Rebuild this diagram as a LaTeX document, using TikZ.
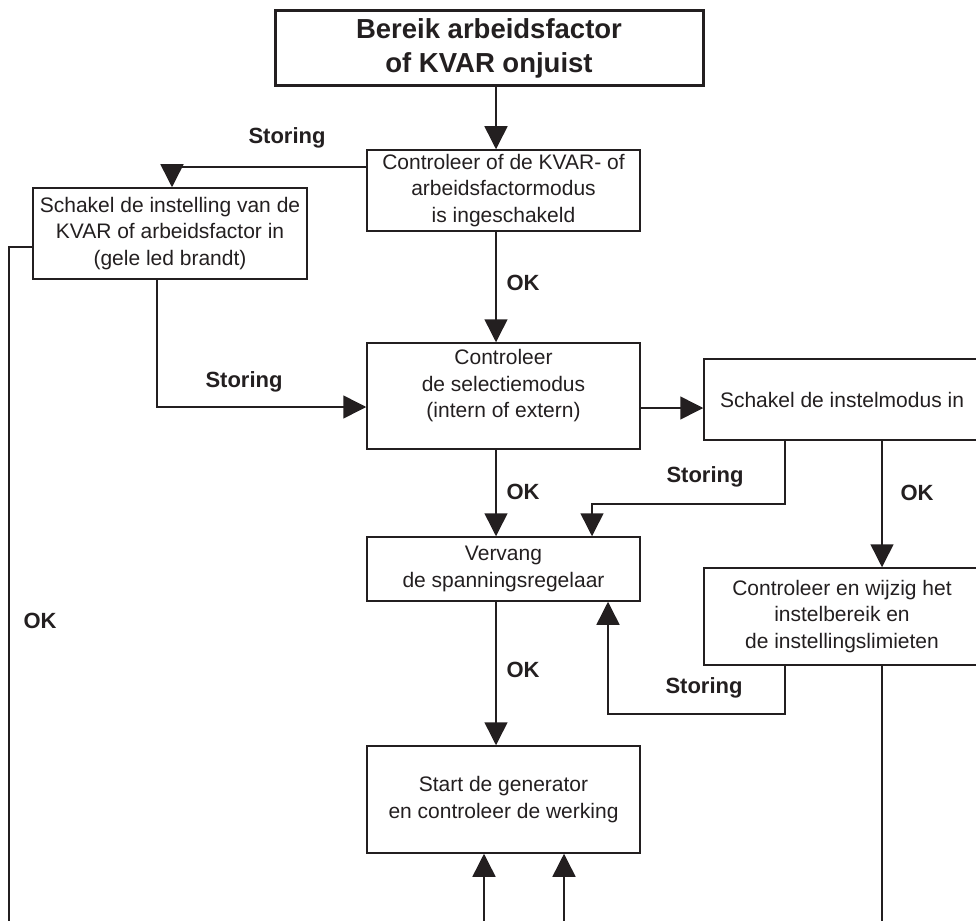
\documentclass[tikz,border=0pt]{standalone}
\usepackage{fontspec}
\setmainfont{Liberation Sans}
\usetikzlibrary{arrows.meta}
\definecolor{ink}{RGB}{35,31,32}
\begin{document}
\begin{tikzpicture}[x=1pt,y=-1pt,
  every node/.style={text=ink},
  box/.style={draw=ink, line width=1.5pt, inner sep=0pt, align=center,
    font=\fontsize{21}{26.5}\selectfont},
  headbox/.style={draw=ink, line width=3pt, inner sep=0pt, align=center,
    font=\bfseries\fontsize{27.5}{34}\selectfont},
  txt/.style={inner sep=0pt, align=center, font=\fontsize{21}{26.5}\selectfont},
  tag/.style={inner sep=0pt, font=\bfseries\fontsize{22}{26}\selectfont},
  link/.style={draw=ink, line width=1.5pt},
  arr/.style={link, -{Triangle[length=23pt,width=23pt]}},
]
\useasboundingbox (0,0) rectangle (976,920);

% boxes
\node[headbox, minimum width=428, minimum height=75] (head) at (489,48.5)
  {Bereik arbeidsfactor\\ of KVAR onjuist};
\node[box, minimum width=273, minimum height=81] (chk) at (503.5,190.5)
  {Controleer of de KVAR- of\\arbeidsfactormodus\\is ingeschakeld};
\node[box, minimum width=274, minimum height=91] (on) at (170,233.5)
  {Schakel de instelling van de\\KVAR of arbeidsfactor in\\(gele led brandt)};
\node[box, minimum width=273, minimum height=106] (sel) at (503.5,396) {};
\node[txt] (selT) at (503.5,386) {Controleer\\de selectiemodus\\(intern of extern)};
\node[box, minimum width=276, minimum height=81] (mode) at (842,399.5)
  {Schakel de instelmodus in};
\node[box, minimum width=276, minimum height=97] (lim) at (842,616.5)
  {Controleer en wijzig het\\instelbereik en\\de instellingslimieten};
\node[box, minimum width=273, minimum height=64] (repl) at (503.5,569)
  {Vervang\\de spanningsregelaar};
\node[box, minimum width=273, minimum height=107] (gen) at (503.5,799.5)
  {Start de generator\\en controleer de werking};

% free ends at the lower edge
\coordinate (xm) at (496,0);
\coordinate (lbot) at (9,925);
\coordinate (rbot) at (882,925);
\coordinate (in1) at (484,925);
\coordinate (in2) at (564,925);

% connectors
\draw[arr] (head.south -| xm) -- (chk.north -| xm);
\draw[arr] (chk.west |- 0,167) -| (on.north -| 172,0);
\draw[link] (on.west |- 0,247) -| (lbot);
\draw[arr] (on.south -| 157,0) |- (sel.west |- 0,407);
\draw[arr] (chk.south -| xm) -- (sel.north -| xm);
\draw[arr] (sel.east |- 0,408) -- (mode.west |- 0,408);
\draw[arr] (mode.south -| 785,0) |- (592,504) -- (repl.north -| 592,0);
\draw[arr] (mode.south -| 882,0) -- (lim.north -| 882,0);
\draw[arr] (sel.south -| xm) -- (repl.north -| xm);
\draw[arr] (lim.south -| 785,0) |- (608,714) -- (repl.south -| 608,0);
\draw[arr] (repl.south -| xm) -- (gen.north -| xm);
\draw[link] (lim.south -| rbot) -- (rbot);
\draw[arr] (in1) -- (gen.south -| in1);
\draw[arr] (in2) -- (gen.south -| in2);

% labels
\node[tag] (s1) at (287,138) {Storing};
\node[tag] (s2) at (244,382) {Storing};
\node[tag] (s3) at (705,477) {Storing};
\node[tag] (s4) at (704,688) {Storing};
\node[tag] (k1) at (523,283) {OK};
\node[tag] (k2) at (523,492) {OK};
\node[tag] (k3) at (917,493) {OK};
\node[tag] (k4) at (523,670) {OK};
\node[tag] (k5) at (40,621) {OK};
\end{tikzpicture}
\end{document}
